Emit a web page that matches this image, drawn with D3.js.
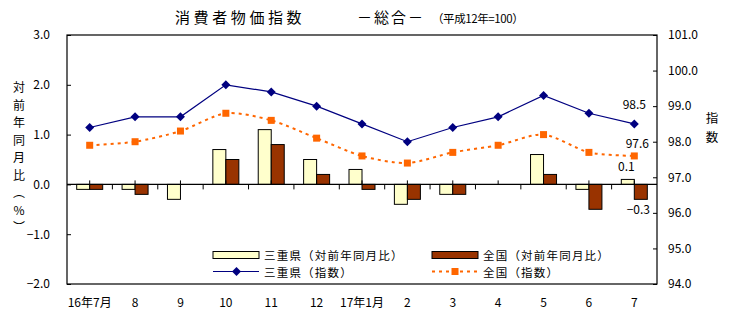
<!DOCTYPE html>
<html><head><meta charset="utf-8">
<script src="https://cdn.jsdelivr.net/npm/d3@7"></script>
<style>
html,body{margin:0;padding:0;background:#fff;}
svg{display:block;font-family:"Noto Sans CJK JP","Noto Sans",sans-serif;}
</style></head>
<body><svg id="c" width="729" height="328"></svg>
<script>
const categories = ["16年7月","8","9","10","11","12","17年1月","2","3","4","5","6","7"];
const mieYoY = [-0.1,-0.1,-0.3,0.7,1.1,0.5,0.3,-0.4,-0.2,0.0,0.6,-0.1,0.1];
const natYoY = [-0.1,-0.2,0.0,0.5,0.8,0.2,-0.1,-0.3,-0.2,0.0,0.2,-0.5,-0.3];
const mieIndex = [98.4,98.7,98.7,99.6,99.4,99.0,98.5,98.0,98.4,98.7,99.3,98.8,98.5];
const natIndex = [97.9,98.0,98.3,98.8,98.6,98.1,97.6,97.4,97.7,97.9,98.2,97.7,97.6];
const leftTicks = [3,2,1,0,-1,-2];
const rightTicks = [101,100,99,98,97,96,95,94];
const colors = {mie:"#FFFFCC", nat:"#993300", mieLine:"#000080", natLine:"#FF6600"};

const svg = d3.select("#c");
const L = 67, R = 657, T = 35, B = 284;

const x = d3.scaleBand().domain(categories).range([L, R]).padding(0);
const yL = d3.scaleLinear().domain([-2, 3]).range([B, T]);
const yR = d3.scaleLinear().domain([94, 101]).range([B, T]);
const cx = c => x(c) + x.bandwidth() / 2;
const barW = 13;

const fmt = d => d.toFixed(1).replace("-", "−");

// Title
svg.append("text").attr("x", 175).attr("y", 23).attr("font-size", 15).attr("letter-spacing", 3.6)
  .attr("fill", "#000").text("消費者物価指数");
svg.append("text").attr("x", 357).attr("y", 23).attr("font-size", 15).attr("letter-spacing", 2)
  .attr("fill", "#000").text("－総合－");
svg.append("text").attr("x", 432).attr("y", 23).attr("font-size", 11.5).attr("letter-spacing", -0.4)
  .attr("fill", "#000").text("（平成12年=100）");

// Bars
const g = svg.append("g");
g.selectAll("rect.mie").data(categories).enter().append("rect")
  .attr("x", c => cx(c) - barW)
  .attr("y", (c, i) => yL(Math.max(0, mieYoY[i])))
  .attr("width", barW)
  .attr("height", (c, i) => Math.abs(yL(mieYoY[i]) - yL(0)))
  .attr("fill", colors.mie).attr("stroke", "#000").attr("stroke-width", 1)
  .attr("display", (c, i) => mieYoY[i] === 0 ? "none" : null);
g.selectAll("rect.nat").data(categories).enter().append("rect")
  .attr("x", c => cx(c))
  .attr("y", (c, i) => yL(Math.max(0, natYoY[i])))
  .attr("width", barW)
  .attr("height", (c, i) => Math.abs(yL(natYoY[i]) - yL(0)))
  .attr("fill", colors.nat).attr("stroke", "#000").attr("stroke-width", 1)
  .attr("display", (c, i) => natYoY[i] === 0 ? "none" : null);

// Zero line and category ticks
svg.append("line").attr("x1", L).attr("x2", R).attr("y1", yL(0)).attr("y2", yL(0))
  .attr("stroke", "#000").attr("stroke-width", 1.2);
categories.forEach((c, i) => {
  if (i > 0) svg.append("line").attr("x1", x(c)).attr("x2", x(c))
    .attr("y1", yL(0)).attr("y2", yL(0) + 5).attr("stroke", "#000");
  svg.append("line").attr("x1", cx(c)).attr("x2", cx(c))
    .attr("y1", yL(0)).attr("y2", yL(0) - 4).attr("stroke", "#000");
});

// Plot box
svg.append("rect").attr("x", L).attr("y", T).attr("width", R - L).attr("height", B - T)
  .attr("fill", "none").attr("stroke", "#000").attr("stroke-width", 1.2);

// Axes
const axL = svg.append("g").attr("transform", `translate(${L},0)`)
  .call(d3.axisLeft(yL).tickValues(leftTicks).tickSize(-4).tickPadding(17).tickFormat(fmt));
const axR = svg.append("g").attr("transform", `translate(${R},0)`)
  .call(d3.axisRight(yR).tickValues(rightTicks).tickSize(-4).tickPadding(11).tickFormat(d => d.toFixed(1)));
const axB = svg.append("g").attr("transform", `translate(0,${B})`)
  .call(d3.axisBottom(x).tickSize(0).tickPadding(14));
[axL, axR, axB].forEach(a => {
  a.select(".domain").remove();
  a.selectAll("text").attr("font-size", 12).attr("fill", "#000")
    .attr("font-family", "'Noto Sans CJK JP','Noto Sans',sans-serif");
  a.selectAll("line").attr("stroke", "#000");
});

// Lines
const lineMie = d3.line().x((d, i) => cx(categories[i])).y(d => yR(d));
const lineNat = d3.line().x((d, i) => cx(categories[i])).y(d => yR(d)).curve(d3.curveCardinal.tension(0.2));
svg.append("path").attr("d", lineNat(natIndex)).attr("fill", "none")
  .attr("stroke", colors.natLine).attr("stroke-width", 2).attr("stroke-dasharray", "3,4");
svg.append("path").attr("d", lineMie(mieIndex)).attr("fill", "none")
  .attr("stroke", colors.mieLine).attr("stroke-width", 1.2);
const diamond = (px, py, r) => `M${px},${py - r}L${px + r},${py}L${px},${py + r}L${px - r},${py}Z`;
svg.selectAll("path.dm").data(mieIndex).enter().append("path")
  .attr("d", (d, i) => diamond(cx(categories[i]), yR(d), 4.5)).attr("fill", colors.mieLine);
svg.selectAll("rect.sq").data(natIndex).enter().append("rect")
  .attr("x", (d, i) => cx(categories[i]) - 3.5).attr("y", d => yR(d) - 3.5)
  .attr("width", 7).attr("height", 7).attr("fill", colors.natLine);

// Data labels for last category
const last = categories.length - 1;
const lbl = (tx, ty, t) => svg.append("text").attr("x", tx).attr("y", ty).attr("font-size", 12)
  .attr("text-anchor", "middle").attr("fill", "#000").text(t);
lbl(cx(categories[last]) + 0, yR(mieIndex[last]) - 15, mieIndex[last].toFixed(1));
lbl(cx(categories[last]) + 3, yR(natIndex[last]) - 8, natIndex[last].toFixed(1));
lbl(cx(categories[last]) - 8, yL(mieYoY[last]) - 8, mieYoY[last].toFixed(1));
lbl(cx(categories[last]) + 4, yL(natYoY[last]) + 15, fmt(natYoY[last]));

// Axis titles (vertical)
const leftTitle = ["対","前","年","同","月","比","︵","%","︶"];
leftTitle.forEach((ch, i) => svg.append("text").attr("x", 19).attr("y", 92 + i * 17.5)
  .attr("font-size", 12).attr("text-anchor", "middle").attr("fill", "#000").text(ch));
["指","数"].forEach((ch, i) => svg.append("text").attr("x", 712).attr("y", 123 + i * 18.5)
  .attr("font-size", 12.5).attr("text-anchor", "middle").attr("fill", "#000").text(ch));

// Legend
const lg = svg.append("g").attr("font-size", 11.5).attr("fill", "#000");
lg.append("rect").attr("x", 213).attr("y", 251.5).attr("width", 46).attr("height", 7)
  .attr("fill", colors.mie).attr("stroke", "#000");
lg.append("text").attr("x", 264).attr("y", 259.5).attr("letter-spacing", 1.2).text("三重県（対前年同月比）");
lg.append("rect").attr("x", 432).attr("y", 251.5).attr("width", 46).attr("height", 7)
  .attr("fill", colors.nat).attr("stroke", "#000");
lg.append("text").attr("x", 483).attr("y", 259.5).attr("letter-spacing", 1.2).text("全国（対前年同月比）");
lg.append("line").attr("x1", 213).attr("x2", 259).attr("y1", 271.5).attr("y2", 271.5)
  .attr("stroke", colors.mieLine).attr("stroke-width", 1.2);
lg.append("path").attr("d", diamond(236.5, 271.5, 4.5)).attr("fill", colors.mieLine);
lg.append("text").attr("x", 264).attr("y", 276.5).attr("letter-spacing", 1.2).text("三重県（指数）");
lg.append("line").attr("x1", 432).attr("x2", 478).attr("y1", 271.5).attr("y2", 271.5)
  .attr("stroke", colors.natLine).attr("stroke-width", 2).attr("stroke-dasharray", "3,4");
lg.append("rect").attr("x", 451.5).attr("y", 268).attr("width", 7).attr("height", 7).attr("fill", colors.natLine);
lg.append("text").attr("x", 483).attr("y", 276.5).attr("letter-spacing", 1.2).text("全国（指数）");
</script></body></html>
